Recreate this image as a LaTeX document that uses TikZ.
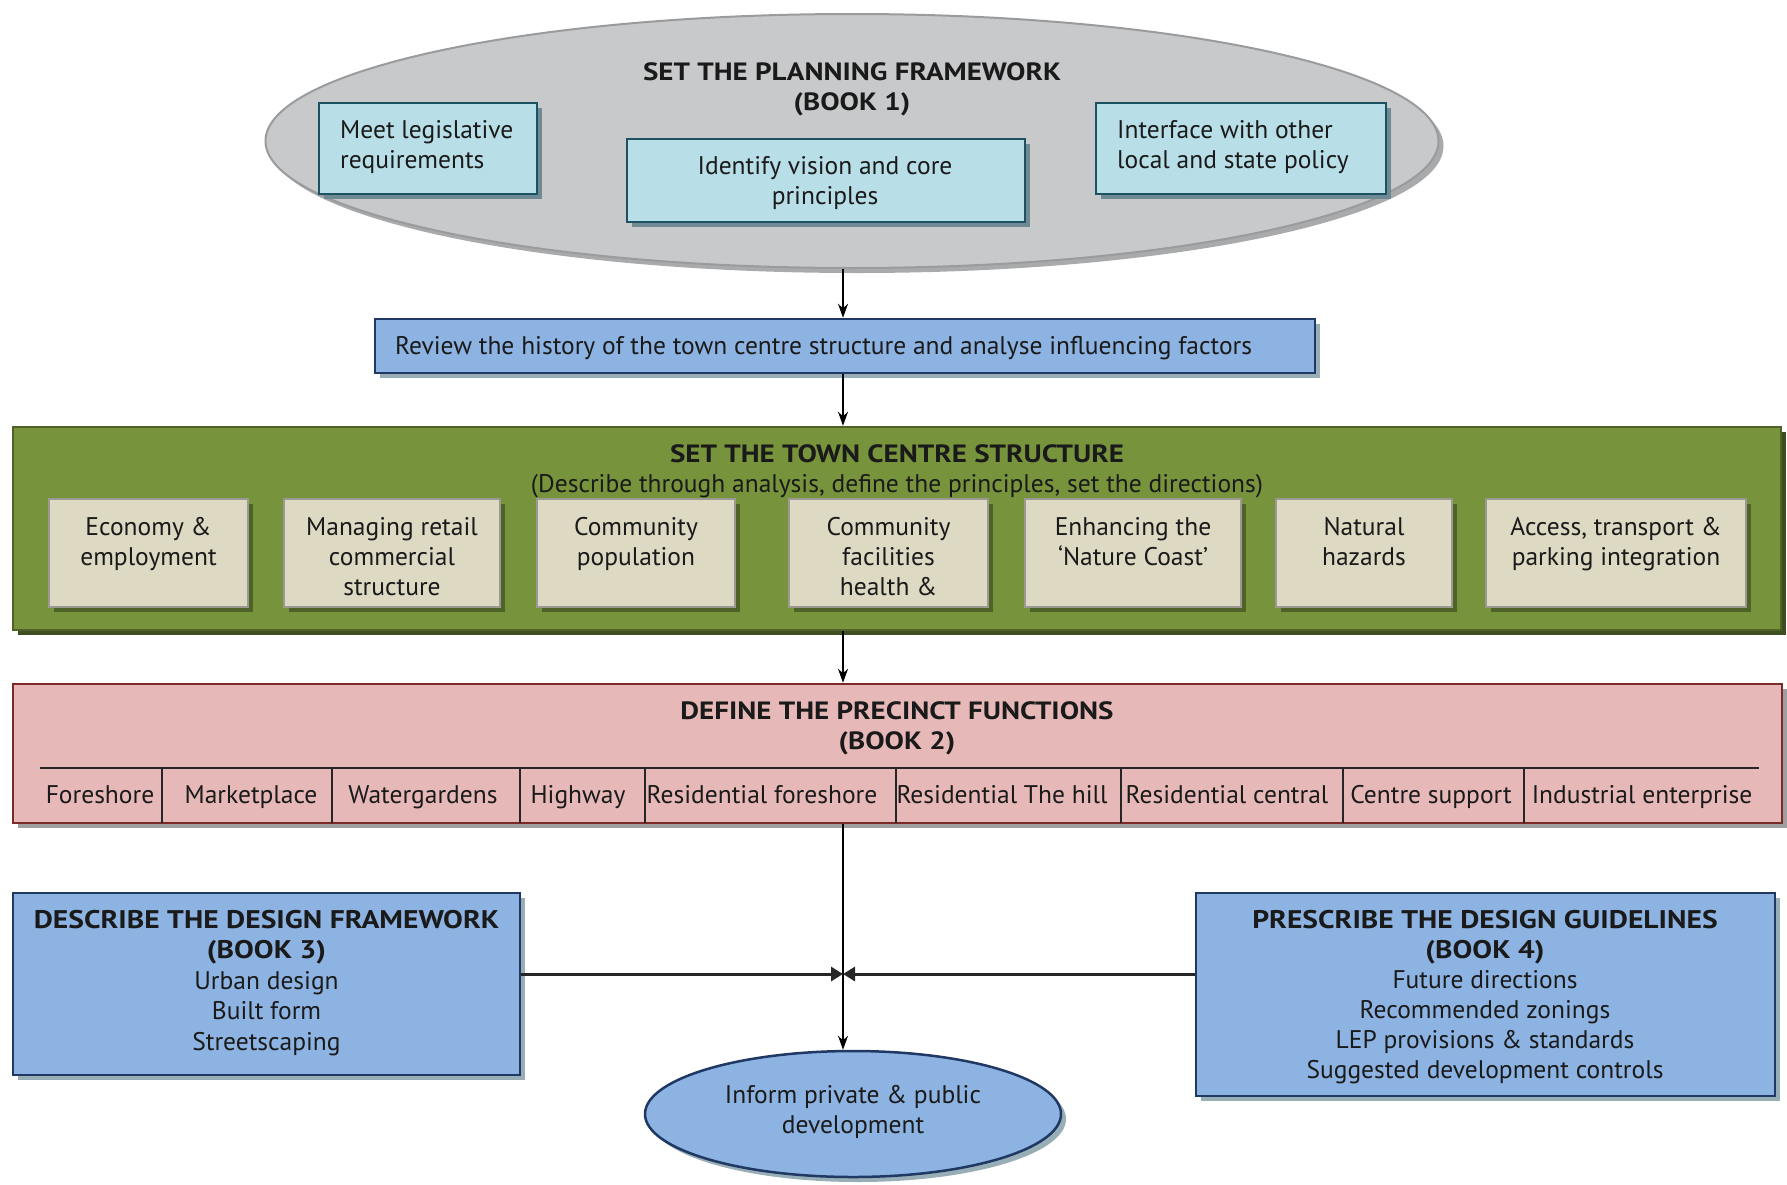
\documentclass[tikz,border=0pt]{standalone}
\usepackage{fontspec}
\setmainfont{PT Sans}[BoldFeatures={FakeStretch=1.16}]
\usetikzlibrary{shapes.geometric,shadows,arrows.meta}
\definecolor{txt}{HTML}{1A1A1A}
\definecolor{ellfill}{HTML}{C8C9CB}
\definecolor{elldraw}{HTML}{9A9B9D}
\definecolor{ellshadow}{HTML}{A9AAAC}
\definecolor{cyanfill}{HTML}{B8DEE8}
\definecolor{cyandraw}{HTML}{1E5262}
\definecolor{cyanshadow}{HTML}{6F8A93}
\definecolor{bluefill}{HTML}{8DB3E2}
\definecolor{bluedraw}{HTML}{1F3864}
\definecolor{blueshadow}{HTML}{98AEB6}
\definecolor{greenfill}{HTML}{77933C}
\definecolor{greendraw}{HTML}{4F6228}
\definecolor{greenshadow}{HTML}{4F6228}
\definecolor{tanfill}{HTML}{DDD9C3}
\definecolor{tandraw}{HTML}{9A9A92}
\definecolor{pinkfill}{HTML}{E6B9B8}
\definecolor{pinkdraw}{HTML}{7B2A2A}
\definecolor{pinkshadow}{HTML}{9F9FA2}
\tikzset{
  shad/.style={drop shadow={shadow xshift=5pt,shadow yshift=-5pt,fill=#1,opacity=1}},
  cyanbox/.style={draw=cyandraw,line width=2.5pt,fill=cyanfill,inner sep=0pt,shad=cyanshadow},
  bluebox/.style={draw=bluedraw,line width=2.5pt,fill=bluefill,inner sep=0pt,shad=blueshadow},
  tanbox/.style={draw=tandraw,line width=2.5pt,fill=tanfill,inner sep=0pt,shad=greenshadow},
  lbl/.style={text=txt,inner sep=0pt,align=center},
  ttl/.style={lbl,font=\bfseries\fontsize{25}{30}\selectfont},
  cell/.style={lbl,anchor=base},
  conn/.style={draw=black,line width=1.5pt,-{Stealth[length=14pt,width=10pt]}},
  hconn/.style={draw=black!85,line width=3pt,-{Triangle[length=12pt,width=14pt]}},
}
\begin{document}
\begin{tikzpicture}[x=1pt,y=-1pt,font=\fontsize{25.5}{30}\selectfont]
\useasboundingbox[fill=white] (0,0) rectangle (1787,1184);

% ---- top ellipse
\node[ellipse,draw=elldraw,line width=2pt,fill=ellfill,minimum width=1173pt,minimum height=254pt,inner sep=0pt,shad=ellshadow] (ell) at (852,141) {};
\node[ttl] (ellt) at (852,89.5) {SET THE PLANNING FRAMEWORK\\(BOOK 1)};
\node[cyanbox,minimum width=218pt,minimum height=91pt] (meet) at (428,148.5) {};
\node[lbl,align=left,anchor=west] (meett) at (340,147) {Meet legislative\\requirements};
\node[cyanbox,minimum width=398pt,minimum height=83pt] (vision) at (826,180.5) {};
\node[lbl] (visiont) at (825,183) {Identify vision and core\\principles};
\node[cyanbox,minimum width=290pt,minimum height=91pt] (iface) at (1241,148.5) {};
\node[lbl,align=left,anchor=west] (ifacet) at (1117,147) {Interface with other\\local and state policy};

% ---- review box
\node[bluebox,minimum width=940pt,minimum height=54pt] (review) at (845,346) {};
\node[lbl,anchor=west] (reviewt) at (395,348) {Review the history of the town centre structure and analyse influencing factors};

% ---- green structure box
\node[draw=greendraw,line width=2.5pt,fill=greenfill,minimum width=1768pt,minimum height=203pt,inner sep=0pt,shad=greenshadow!80!black] (green) at (897,528.5) {};
\node[ttl] (greent) at (897,454) {SET THE TOWN CENTRE STRUCTURE};
\node[lbl] (greens) at (897,486) {(Describe through analysis, define the principles, set the directions)};
\node[tanbox,minimum width=199pt,minimum height=108pt] (g1) at (148.5,553) {};
\node[tanbox,minimum width=216pt,minimum height=108pt] (g2) at (392,553) {};
\node[tanbox,minimum width=198pt,minimum height=108pt] (g3) at (636,553) {};
\node[tanbox,minimum width=199pt,minimum height=108pt] (g4) at (888.5,553) {};
\node[tanbox,minimum width=216pt,minimum height=108pt] (g5) at (1133,553) {};
\node[tanbox,minimum width=176pt,minimum height=108pt] (g6) at (1364,553) {};
\node[tanbox,minimum width=260pt,minimum height=108pt] (g7) at (1616,553) {};
\node[lbl,anchor=north] (g1t) at ([yshift=-19pt]g1.north) {Economy \&\\employment};
\node[lbl,anchor=north] (g2t) at ([yshift=-19pt]g2.north) {Managing retail\\commercial\\structure};
\node[lbl,anchor=north] (g3t) at ([yshift=-19pt]g3.north) {Community\\population};
\node[lbl,anchor=north] (g4t) at ([yshift=-19pt]g4.north) {Community\\facilities\\health \&};
\node[lbl,anchor=north] (g5t) at ([yshift=-19pt]g5.north) {Enhancing the\\‘Nature Coast’};
\node[lbl,anchor=north] (g6t) at ([yshift=-19pt]g6.north) {Natural\\hazards};
\node[lbl,anchor=north] (g7t) at ([yshift=-19pt]g7.north) {Access, transport \&\\parking integration};

% ---- pink precinct box
\node[draw=pinkdraw,line width=2.5pt,fill=pinkfill,minimum width=1769pt,minimum height=139pt,inner sep=0pt,shad=pinkshadow] (pink) at (897.5,753.5) {};
\node[ttl] (pinkt) at (897,728.5) {DEFINE THE PRECINCT FUNCTIONS\\(BOOK 2)};
\draw[line width=1.8pt,draw=black!85] (40,768) -- (1759,768);
\foreach \xx in {162,332,520,645,896,1121,1343,1524}
  \draw[line width=1.5pt,draw=black!85] (\xx,768) -- (\xx,823);
\node[cell] (c1) at (100,803) {Foreshore};
\node[cell] (c2) at (251,803) {Marketplace};
\node[cell] (c3) at (423,803) {Watergardens};
\node[cell] (c4) at (578,803) {Highway};
\node[cell] (c5) at (762,803) {Residential foreshore};
\node[cell] (c6) at (1002,803) {Residential The hill};
\node[cell] (c7) at (1227,803) {Residential central};
\node[cell] (c8) at (1431,803) {Centre support};
\node[cell] (c9) at (1642,803) {Industrial enterprise};

% ---- bottom boxes
\node[bluebox,minimum width=507pt,minimum height=182pt] (left) at (266.5,984) {};
\node[lbl,font=\fontsize{25.5}{30.5}\selectfont] (leftt) at (266.5,983) {\textbf{DESCRIBE THE DESIGN FRAMEWORK}\\\textbf{(BOOK 3)}\\Urban design\\Built form\\Streetscaping};
\node[bluebox,minimum width=579pt,minimum height=203pt] (right) at (1485.5,994.5) {};
\node[lbl,font=\fontsize{25.5}{30}\selectfont] (rightt) at (1485,997) {\textbf{PRESCRIBE THE DESIGN GUIDELINES}\\\textbf{(BOOK 4)}\\Future directions\\Recommended zonings\\LEP provisions \& standards\\Suggested development controls};
\node[ellipse,draw=bluedraw,line width=2.5pt,fill=bluefill,minimum width=416pt,minimum height=126pt,inner sep=0pt,shad=blueshadow] (oval) at (853,1114) {};
\node[lbl] (ovalt) at (853,1112) {Inform private \& public\\development};

% ---- connectors
\coordinate (mid) at (843,974);
\draw[conn] ([xshift=-2pt]review.north |- ell.south) -- ([xshift=-2pt]review.north);
\draw[conn] ([xshift=-2pt]review.south) -- ([xshift=-2pt]review.south |- green.north);
\draw[conn] ([xshift=-2pt]review.south |- green.south) -- ([xshift=-2pt]review.south |- pink.north);
\draw[conn] (mid |- pink.south) -- (mid |- oval.north);
\draw[hconn] (left.east |- mid) -- (mid);
\draw[hconn] (right.west |- mid) -- (mid);
\end{tikzpicture}
\end{document}
